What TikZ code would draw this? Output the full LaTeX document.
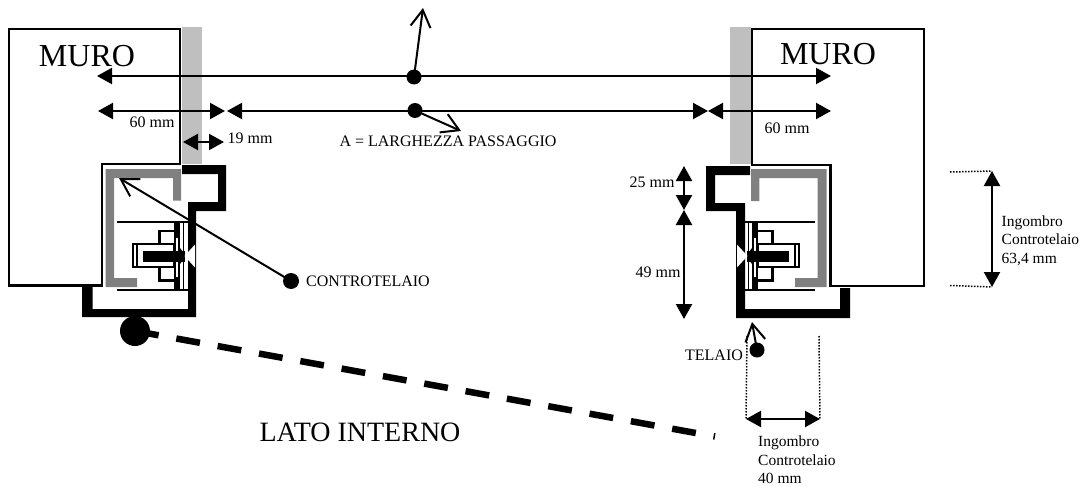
\documentclass[tikz,border=0pt]{standalone}
\usepackage{fontspec}
\setmainfont{Liberation Serif}
\usetikzlibrary{arrows.meta}

\tikzset{
    muro/.style={draw=black,line width=2.4pt,fill=white},
    quota/.style={line width=2.2pt,{Triangle[length=15pt,width=16pt]}-{Triangle[length=15pt,width=16pt]}},
    freccia/.style={line width=2pt,-{Straight Barb[length=17pt,width=20pt,line width=2pt]}},
    richiamo/.style={line width=1.5pt,dash pattern=on 1.5pt off 1.5pt},
    pallino/.style={circle,fill=black,inner sep=0pt,minimum size=#1},
    testo/.style={inner sep=0pt,font=\fontsize{16pt}{18.5pt}\selectfont},
    ingombro/.style={inner sep=0pt,align=left,anchor=north west,font=\fontsize{15.5pt}{18.5pt}\selectfont},
    titolo/.style={inner sep=0pt,font=\fontsize{#1}{#1}\selectfont}
}

\definecolor{intonaco}{HTML}{BFBFBF}
\definecolor{controtelaio}{HTML}{808080}

% mechanism drawn for the left side, mirrored for the right one
\newcommand{\meccanismo}{
    \draw[line width=2pt] (117,222) -- (188,222);
    \draw[line width=2pt] (117,289.5) -- (188,289.5);
    \fill (174,222) rectangle (180,289.5);
    \draw[line width=1.8pt] (183.5,222) -- (183.5,289.5);
    \fill[white] (175.7,238) rectangle (177.7,277);
    \draw[line width=2.2pt,fill=white] (133,244) rectangle (174,267);
    \draw[line width=1.8pt] (137,244) -- (137,267);
    \draw[line width=2.2pt] (174,231) -- (159.5,231) -- (159.5,244);
    \draw[line width=2.2pt] (174,280.5) -- (159.5,280.5) -- (159.5,267);
    \fill (180,248) -- (184.5,254) -- (184.5,258) -- (180,264) -- cycle;
    \fill (143,251) rectangle (185,262);
    \fill[white] (184.5,256) -- (195,244.5) -- (195,267.5) -- cycle;
}

\begin{document}
\begin{tikzpicture}[x=1pt,y=-1pt]
    \useasboundingbox (0,0) rectangle (1082,487);

    % plaster
    \fill[intonaco] (182,27) rectangle (202,164);
    \fill[intonaco] (730,27) rectangle (751,164);

    % walls
    \draw[muro] (9,29) -- (180,29) -- (180,164) -- (102,164) -- (102,285.5) -- (9,285.5) -- cycle;
    \draw[muro] (752,29) -- (924,29) -- (924,286) -- (830.5,286) -- (830.5,165) -- (752,165) -- cycle;

    % counter frames
    \fill[controtelaio] (105.5,169) -- (181,169) -- (181,200.5) -- (173,200.5) -- (173,178) -- (114,178) -- (114,278) -- (137,278) -- (137,287) -- (105.5,287) -- cycle;
    \fill[controtelaio] (826.7,169) -- (751,169) -- (751,201) -- (759.3,201) -- (759.3,178) -- (817.7,178) -- (817.7,278) -- (795,278) -- (795,287) -- (826.7,287) -- cycle;

    % frames
    \fill (182,165) -- (226,165) -- (226,211) -- (196,211) -- (196,317) -- (82,317) -- (82,287) -- (92.5,287) -- (92.5,309) -- (188,309) -- (188,202) -- (218,202) -- (218,174) -- (182,174) -- cycle;
    \fill (750,166) -- (706,166) -- (706,211) -- (736,211) -- (736,318) -- (850,318) -- (850,288) -- (840,288) -- (840,309) -- (745,309) -- (745,203) -- (715,203) -- (715,175) -- (750,175) -- cycle;

    \meccanismo
    \begin{scope}[xshift=932pt,xscale=-1]
        \meccanismo
    \end{scope}

    % labels
    \node[titolo=32pt] (muroSx) at (87,56) {MURO};
    \node[titolo=32pt] (muroDx) at (828,54) {MURO};
    \node[titolo=28pt] (latoInterno) at (360,432) {LATO INTERNO};
    \node[testo] (larghezza) at (448,141) {A = LARGHEZZA PASSAGGIO};
    \node[testo] (q60Sx) at (152,122) {60 mm};
    \node[testo] (q60Dx) at (787,128) {60 mm};
    \node[testo] (q19) at (250,138) {19 mm};
    \node[testo] (q25) at (652,182) {25 mm};
    \node[testo] (q49) at (658,272) {49 mm};
    \node[testo] (nomeControtelaio) at (368,281) {CONTROTELAIO};
    \node[testo] (nomeTelaio) at (714,355) {TELAIO};
    \node[ingombro] (ingombroV) at (1001.5,215.5) {Ingombro\\Controtelaio\\63,4 mm};
    \node[ingombro] (ingombroO) at (758,436) {Ingombro\\Controtelaio\\40 mm};

    % dots
    \node[pallino=15pt] (puntoAlto) at (414,77) {};
    \node[pallino=15pt] (puntoPassaggio) at (415,110.5) {};
    \node[pallino=16pt] (puntoControtelaio) at (291,281) {};
    \node[pallino=15pt] (puntoTelaio) at (757,350) {};
    \node[pallino=30pt] (puntoInterno) at (135,331) {};

    % free ends
    \coordinate (altoSx) at (97,76);
    \coordinate (altoDx) at (831,76);
    \coordinate (passSx) at (98,111);
    \coordinate (passA) at (225,111);
    \coordinate (passB) at (227,111);
    \coordinate (passC) at (708,111);
    \coordinate (passD) at (831,111);
    \coordinate (dicianSx) at (183,142);
    \coordinate (dicianDx) at (224,142);
    \coordinate (q25a) at (684,166);
    \coordinate (q25b) at (684,210);
    \coordinate (q49b) at (684,319);
    \coordinate (ingVa) at (992,171);
    \coordinate (ingVb) at (992,287);
    \coordinate (ingOa) at (746,419);
    \coordinate (ingOb) at (820,419);
    \coordinate (frecciaAlto) at (423,8);
    \coordinate (frecciaPass) at (461,131);
    \coordinate (frecciaContro) at (119,178);
    \coordinate (frecciaTelaio) at (752,322);
    \coordinate (fineInterno) at (715,436.5);
    \coordinate (richVa) at (950,172);
    \coordinate (richVb) at (950,285.5);
    \coordinate (richOa) at (747,336);
    \coordinate (richOb) at (819,336);

    % dimension lines
    \draw[quota] (altoSx) -- (altoDx);
    \draw[quota] (passSx) -- (passA);
    \draw[quota] (passB) -- (passC);
    \draw[quota] (passC) -- (passD);
    \draw[quota] (dicianSx) -- (dicianDx);
    \draw[quota] (q25a) -- (q25b);
    \draw[quota] (q25b) -- (q49b);
    \draw[quota] (ingVa) -- (ingVb);
    \draw[quota] (ingOa) -- (ingOb);

    % leaders
    \draw[richiamo] (richVa) -- (ingVa);
    \draw[richiamo] (richVb) -- (ingVb);
    \draw[richiamo] (richOa) -- (ingOa);
    \draw[richiamo] (richOb) -- (ingOb);

    % arrows from the dots
    \draw[freccia] (puntoAlto.center) -- (frecciaAlto);
    \draw[freccia] (puntoPassaggio.center) -- (frecciaPass);
    \draw[freccia] (puntoControtelaio.center) -- (frecciaContro);
    \draw[freccia] (puntoTelaio.center) -- (frecciaTelaio);

    \draw[line width=6.5pt,dash pattern=on 24pt off 18pt] (puntoInterno.center) -- (fineInterno);
\end{tikzpicture}
\end{document}
